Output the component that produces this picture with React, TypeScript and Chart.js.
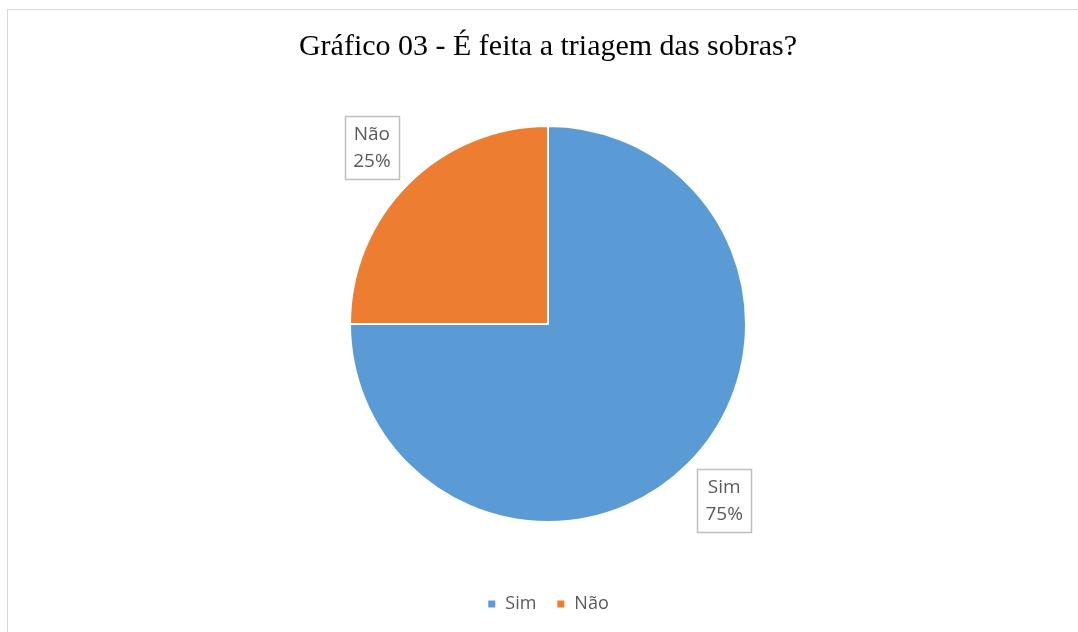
import React, { useEffect, useRef } from "react";
import { Chart, registerables } from "chart.js";

Chart.register(...registerables);

const titleText = "Gráfico 03 - É feita a triagem das sobras?";
const categories = ["Sim", "Não"];
const values = [75, 25];
const percentLabels = ["75%", "25%"];
const colors = ["#5B9BD5", "#ED7D31"];

const frameAndLabels = {
  id: "frameAndLabels",
  beforeDraw(chart: any) {
    const ctx = chart.ctx;
    ctx.save();
    ctx.fillStyle = "#ffffff";
    ctx.fillRect(0, 0, chart.width, chart.height);
    ctx.strokeStyle = "#D9D9D9";
    ctx.lineWidth = 1;
    ctx.strokeRect(7.5, 9.5, 1080, 700);
    ctx.restore();
  },
  afterDatasetsDraw(chart: any) {
    const ctx = chart.ctx;
    const meta = chart.getDatasetMeta(0);
    ctx.save();
    meta.data.forEach((arc: any, i: number) => {
      const p = arc.getProps(["x", "y", "startAngle", "endAngle", "outerRadius"], true);
      const mid = (p.startAngle + p.endAngle) / 2;
      const d = p.outerRadius * 1.258;
      const cx = p.x + Math.cos(mid) * d;
      const cy = p.y + Math.sin(mid) * d;
      const w = 54;
      const h = 63;
      ctx.fillStyle = "#ffffff";
      ctx.fillRect(cx - w / 2, cy - h / 2, w, h);
      ctx.strokeStyle = "#BFBFBF";
      ctx.lineWidth = 1.5;
      ctx.strokeRect(Math.round(cx - w / 2) + 0.5, Math.round(cy - h / 2) + 0.5, w, h);
      ctx.fillStyle = "#595959";
      ctx.font = "19px 'Open Sans'";
      ctx.textAlign = "center";
      ctx.textBaseline = "middle";
      ctx.fillText(categories[i], cx, cy - 13);
      ctx.fillText(percentLabels[i], cx, cy + 14);
    });
    ctx.restore();
  },
};

export default function App() {
  const ref = useRef<HTMLCanvasElement | null>(null);
  useEffect(() => {
    document.body.style.margin = "0";
    const chart = new Chart(ref.current as HTMLCanvasElement, {
      type: "pie",
      data: {
        labels: categories,
        datasets: [
          {
            data: values,
            backgroundColor: colors,
            borderColor: "#ffffff",
            borderWidth: 2,
            radius: 198,
          },
        ],
      },
      options: {
        responsive: false,
        animation: false,
        layout: { padding: { left: 18, right: 0, top: 0, bottom: 9 } },
        plugins: {
          title: {
            display: true,
            text: titleText,
            color: "#000000",
            font: { family: "'Liberation Serif'", size: 30, weight: "normal" },
            padding: { top: 29, bottom: 8 },
          },
          legend: {
            position: "bottom",
            labels: {
              color: "#595959",
              font: { family: "'Open Sans'", size: 18 },
              boxWidth: 9,
              boxHeight: 9,
              padding: 20,
            },
          },
          tooltip: { enabled: false },
        },
      },
      plugins: [frameAndLabels],
    });
    return () => chart.destroy();
  }, []);
  return (
    <div style={{ position: "fixed", left: 0, top: 0, width: 1078, height: 632 }}>
      <canvas ref={ref} width={1078} height={632} style={{ display: "block" }} />
    </div>
  );
}
